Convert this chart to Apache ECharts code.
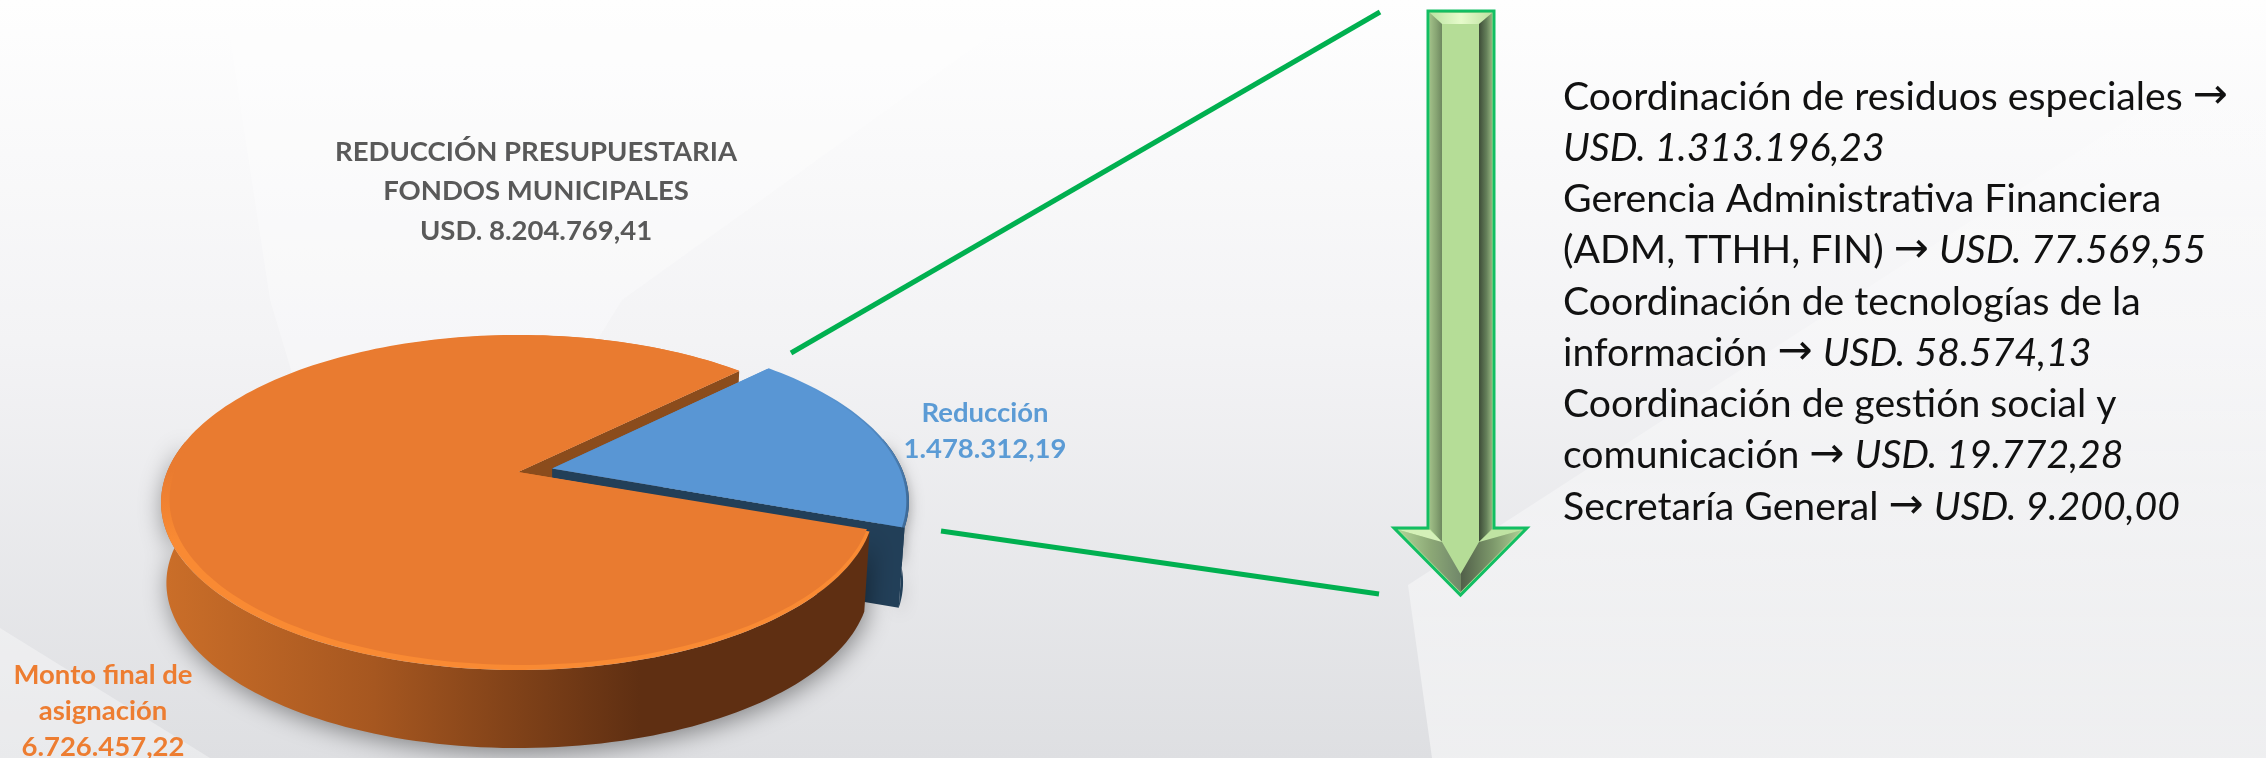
<!DOCTYPE html>
<html><head><meta charset="utf-8">
<style>html,body{margin:0;padding:0;background:#fff}#c{width:2266px;height:758px}</style>
<script src="https://cdn.jsdelivr.net/npm/echarts@6/dist/echarts.min.js"></script>
</head><body><div id="c"></div>
<script>
const categories = ['Reducción', 'Monto final de asignación'];
const values = [1478312.19, 6726457.22];
const valueLabels = ['1.478.312,19', '6.726.457,22'];
const titleLines = ['REDUCCIÓN PRESUPUESTARIA', 'FONDOS MUNICIPALES', 'USD. 8.204.769,41'];
const detailPlain = ['Coordinación de residuos especiales →', '', 'Gerencia Administrativa Financiera', '(ADM, TTHH, FIN) → ', 'Coordinación de tecnologías de la', 'información → ', 'Coordinación de gestión social y', 'comunicación → ', 'Secretaría General → '];
const detailAmounts = ['', 'USD. 1.313.196,23', '', 'USD. 77.569,55', '', 'USD. 58.574,13', '', 'USD. 19.772,28', 'USD. 9.200,00'];

const total = values.reduce((a, b) => a + b, 0);
const FIRST_ANGLE = 45.3, EXPLODE = [0.1, 0];
const CX = 518, CY = 472, FX = 351, GY = 162, K = 0.182, DEPTH = 81, BOTTOM_SCALE = 0.985;
const FRONT_FROM = 79, FRONT_TO = 281; // clock angles of the part of the rim that faces the viewer
const rad = d => d * Math.PI / 180;

function sliceRange(i) {
  let a = FIRST_ANGLE;
  for (let j = 0; j < i; j++) a += values[j] / total * 360;
  return [a, a + values[i] / total * 360];
}
function makeProjector(i) {
  const [a, b] = sliceRange(i), mid = rad((a + b) / 2);
  const ox = Math.sin(mid) * EXPLODE[i], oy = -Math.cos(mid) * EXPLODE[i];
  return (X, Y, bottom) => {
    const s = bottom ? BOTTOM_SCALE : 1, d = bottom ? DEPTH : 0;
    const px = X + ox, py = Y + oy, w = 1 - K * py;
    return [CX + s * FX * px / w, CY + d + s * GY * py / w];
  };
}
function arc(proj, a, b, r, bottom) {
  const pts = [], n = Math.max(8, Math.ceil(Math.abs(b - a) / 1.5));
  for (let k = 0; k <= n; k++) {
    const t = rad(a + (b - a) * k / n);
    pts.push(proj(r * Math.sin(t), -r * Math.cos(t), bottom));
  }
  return pts;
}
const poly = (points, style) => ({ type: 'polygon', shape: { points }, style });
const hGrad = (x1, x2, stops) => new echarts.graphic.LinearGradient(x1, 0, x2, 0, stops, true);
const vGrad = (y1, y2, stops) => new echarts.graphic.LinearGradient(0, y1, 0, y2, stops, true);

function renderBackWall(params, api) {
  const i = 1, [a, b] = sliceRange(i), proj = makeProjector(i);
  const t = rad(b), tip = [Math.sin(t), -Math.cos(t)];
  return { type: 'group', children: [poly([proj(0, 0), proj(tip[0], tip[1]), proj(tip[0], tip[1], true), proj(0, 0, true)], { fill: '#8B4C1C' })] };
}
function renderSlice(params, api) {
  const i = api.value(0), [a, b] = sliceRange(i), proj = makeProjector(i);
  const topArc = arc(proj, a, b, 1);
  const fa = Math.max(a, FRONT_FROM), fb = Math.min(b, FRONT_TO);
  const side = arc(proj, fa, fb, 1).concat(arc(proj, fa, fb, 1, true).reverse());
  const apex = proj(0, 0), apexB = proj(0, 0, true);
  const ch = [];
  if (i === 0) {
    const endTop = proj(Math.sin(rad(b)), -Math.cos(rad(b))), endBot = proj(Math.sin(rad(b)), -Math.cos(rad(b)), true);
    ch.push(poly(side, { fill: '#223F58', shadowBlur: 14, shadowColor: 'rgba(0,0,0,0.35)', shadowOffsetY: 5 }));
    ch.push(poly([apex, endTop, endBot, apexB], { fill: '#223F58' }));
    ch.push(poly([apex].concat(topArc), { fill: vGrad(390, 500, [{ offset: 0, color: '#5996D4' }, { offset: 1, color: '#3F6C9A' }]) }));
    const inner = arc(proj, a, b, 0.993);
    ch.push(poly([apex].concat(inner), { fill: '#5996D4' }));
  } else {
    ch.push(poly(side, {
      fill: hGrad(156, 640, [{ offset: 0, color: '#CC6F29' }, { offset: 0.45, color: '#A65720' }, { offset: 1, color: '#5F2F12' }]),
      shadowBlur: 24, shadowColor: 'rgba(0,0,0,0.42)', shadowOffsetY: 5, shadowOffsetX: 2
    }));
    ch.push(poly([apex].concat(topArc), {
      fill: vGrad(470, 540, [{ offset: 0, color: '#E97B30' }, { offset: 1, color: '#F98A33' }])
    }));
    const inner = arc(proj, a, b, 0.985).map(p => [p[0] + 3, p[1] - 1.5]);
    ch.push(poly([apex].concat(inner), { fill: '#E97B30' }));
  }
  return { type: 'group', children: ch };
}

const FONT = 'Lato, "Open Sans", sans-serif';
const T = (text, x, y, style) => ({
  type: 'text', z: 20,
  style: Object.assign({ text, x, y, fontFamily: FONT, align: 'center', verticalAlign: 'middle' }, style)
});

// Background decoration
const W = 2266, H = 758;
const bg = [
  { type: 'rect', z: 0, shape: { x: 0, y: 0, width: W, height: H }, style: { fill: vGrad(0, H, [{ offset: 0, color: '#FEFEFE' }, { offset: 0.45, color: '#F3F3F5' }, { offset: 1, color: '#DEDFE2' }]) } },
  { type: 'polygon', z: 1, shape: { points: [[224, 0], [1040, 0], [622, 300], [560, 400], [300, 400], [270, 300]] }, style: { fill: 'rgba(255,255,255,0.3)' } },
  { type: 'polygon', z: 1, shape: { points: [[1408, 585], [2266, 30], [2266, H], [1432, H]] }, style: { fill: vGrad(30, H, [{ offset: 0, color: 'rgba(255,255,255,0.08)' }, { offset: 1, color: 'rgba(255,255,255,0.5)' }]) } },
  { type: 'polygon', z: 1, shape: { points: [[0, 628], [210, H], [0, H]] }, style: { fill: 'rgba(255,255,255,0.35)' } }
];

// Connectors
const GREEN = '#00B050';
const connectors = [[791, 353, 1380, 12], [941, 531, 1379, 594]].map(p => ({
  type: 'line', z: 5, shape: { x1: p[0], y1: p[1], x2: p[2], y2: p[3] }, style: { stroke: GREEN, lineWidth: 5 }
}));

// Bevelled arrow
const L = 1428, R = 1494, IL = 1442, IR = 1479, TOP = 11, IT = 24, NECK = 528, INECK = 542, HL = 1394, HR = 1527, MID = 1460.5, TIP = 595, ITIP = 574;
const A = (points, fill, extra) => ({ type: 'polygon', z: 6, shape: { points }, style: Object.assign({ fill }, extra) });
const arrow = [
  A([[L, TOP], [R, TOP], [R, NECK], [HR, NECK], [MID, TIP], [HL, NECK], [L, NECK]], '#B5DD97', { stroke: '#12BE62', lineWidth: 3, lineJoin: 'miter' }),
  A([[L + 2, TOP + 2], [R - 2, TOP + 2], [IR, IT], [IL, IT]], hGrad(L, R, [{ offset: 0, color: '#B9E2A0' }, { offset: 0.5, color: '#E6FBCB' }, { offset: 1, color: '#BBDF9E' }])),
  A([[L + 2, TOP + 2], [IL, IT], [IL, INECK], [L + 2, NECK + 1]], hGrad(L, IL, [{ offset: 0, color: '#A7C78D' }, { offset: 0.6, color: '#87A473' }, { offset: 1, color: '#6E8860' }])),
  A([[R - 2, TOP + 2], [IR, IT], [IR, INECK], [R - 2, NECK + 1]], hGrad(IR, R, [{ offset: 0, color: '#3E4D38' }, { offset: 0.5, color: '#65805A' }, { offset: 1, color: '#A5C68C' }])),
  A([[HL + 5, NECK + 2], [L + 2, NECK + 2], [IL, INECK], [IL - 6, INECK + 4], [HL + 30, NECK + 9]], '#D4F0B8'),
  A([[HR - 5, NECK + 2], [R - 2, NECK + 2], [IR, INECK], [IR + 6, INECK + 4], [HR - 30, NECK + 9]], '#BFE3A3'),
  A([[HL + 5, NECK + 2], [HL + 30, NECK + 9], [IL, INECK], [MID, ITIP], [MID, TIP - 3]], hGrad(HL, MID, [{ offset: 0, color: '#B7DA9C' }, { offset: 0.55, color: '#8CA876' }, { offset: 1, color: '#71886A' }])),
  A([[HR - 5, NECK + 2], [HR - 30, NECK + 9], [IR, INECK], [MID, ITIP], [MID, TIP - 3]], hGrad(MID, HR, [{ offset: 0, color: '#515F49' }, { offset: 0.5, color: '#7E9A6C' }, { offset: 1, color: '#B6D99B' }]))
];

// Texts
const GRAY = '#595959', BLUE = '#5B9BD5', ORANGE = '#ED7D31';
const titleText = titleLines.map((t, i) => T(t, 536, 152 + i * 39.5, { fontSize: 27.5, fontWeight: 'bold', fill: GRAY }));
const sizeB = 27.5;
const blueText = [categories[0], valueLabels[0]].map((t, i) => T(t, 985, 413 + i * 36, { fontSize: sizeB, fontWeight: 'bold', fill: BLUE }));
const orangeText = ['Monto final de', 'asignación', valueLabels[1]].map((t, i) => T(t, 103, 675 + i * 36, { fontSize: sizeB, fontWeight: 'bold', fill: ORANGE }));
const detailMarkup = t => t ? '{p|' + t.split('→').join('}{a|→}{p|') + '}' : '';
const INK = '#111111', DETAIL_SIZE = 39.2;
const detailText = detailPlain.map((t, i) => ({
  type: 'text', z: 20,
  style: {
    text: detailMarkup(t) + (detailAmounts[i] ? '{i|' + detailAmounts[i] + '}' : ''),
    x: 1563, y: 97 + i * 51.25, align: 'left', verticalAlign: 'middle',
    rich: {
      p: { fontFamily: FONT, fontSize: DETAIL_SIZE, fill: INK, color: INK },
      a: { fontFamily: '"DejaVu Sans"', fontSize: 42, fill: INK, color: INK },
      i: { fontFamily: FONT, fontSize: DETAIL_SIZE, fontStyle: 'italic', fill: INK, color: INK }
    }
  }
}));

const chart = echarts.init(document.getElementById('c'), null, { renderer: 'canvas', width: W, height: H });
chart.setOption({
  animation: false,
  graphic: { elements: bg.concat(connectors, arrow, titleText, blueText, orangeText, detailText) },
  series: [
    { type: 'custom', coordinateSystem: 'none', name: 'pared', z: 3, silent: true, renderItem: renderBackWall, data: [[1]] },
    {
      type: 'custom', coordinateSystem: 'none', name: 'Reducción presupuestaria', z: 4, renderItem: renderSlice,
      encode: { value: 1 },
      data: values.map((v, i) => ({ name: categories[i], value: [i, v] }))
    }
  ]
});
</script></body></html>
